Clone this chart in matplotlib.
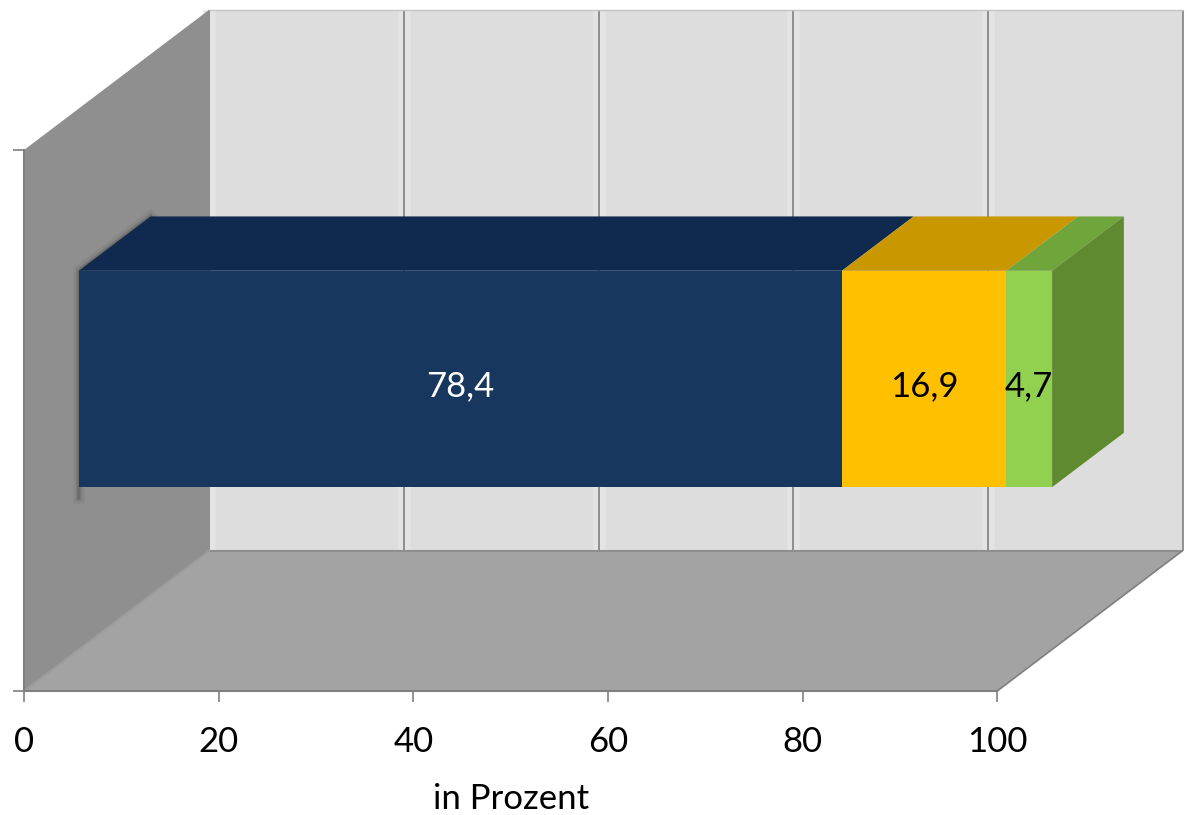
#Gestapelter Balken in 3D-Optik: Anteile in Prozent

import matplotlib
matplotlib.use('Agg')
import matplotlib.pyplot as plt
from matplotlib.patches import Polygon

plt.rcParams['font.family'] = ['Lato', 'DejaVu Sans']

#Daten
anteile = [78.4, 16.9, 4.7]
beschriftung = ['78,4', '16,9', '4,7']
x_ticks = [0, 20, 40, 60, 80, 100]
x_ticklabels = ['0', '20', '40', '60', '80', '100']

#Farben der Segmente
farbe_front = ['#17375E', '#FFC000', '#92D050']
farbe_oben = ['#0F2A4E', '#C99700', '#6FA53B']
farbe_text = ['white', 'black', 'black']
farbe_seite = '#5F8A2F'

#Perspektive: Versatz der Rueckwand in Achseneinheiten
tiefe_x = 19.05
tiefe_y = 0.2595
balken_vorn = 0.296
balken_hinten = 0.683
balken_unten = 0.30
balken_oben = 0.70


def proj(x, y, d):
    '''Punkt (x, y) in der Tiefe d (0 vorn, 1 hinten) auf die Ebene abbilden'''
    return (x + d * tiefe_x, y + d * tiefe_y)


def flaeche(ax, punkte, farbe, z=1, **kw):
    kw.setdefault('linewidth', 0)
    ax.add_patch(Polygon([proj(*p) for p in punkte], closed=True,
                         facecolor=farbe, zorder=z, **kw))


fig = plt.figure(figsize=(11.87, 8.15), dpi=100)
ax = fig.add_axes([0, 0, 1, 1])
ax.set_xlim(-2.467, 119.5)
ax.set_ylim(-0.2292, 1.2773)
ax.patch.set_visible(False)

#Rueckwand, Boden und linke Wand
flaeche(ax, [(0, 0, 1), (100, 0, 1), (100, 1, 1), (0, 1, 1)], '#DDDDDD', 1)
for t in x_ticks:
    #helle Kante neben den Gitterlinien
    if t < 100:
        ax.plot(*zip(proj(t, 0, 1), proj(t, 1, 1)), color='#E4E4E4', lw=9,
                solid_capstyle='butt', zorder=1.1)
    ax.plot(*zip(proj(t, 0, 1), proj(t, 1, 1)), color='#808080', lw=1.2,
            solid_capstyle='butt', zorder=1.2)
ax.plot(*zip(proj(0, 1, 1), proj(100, 1, 1)), color='#C4C4C4', lw=1, zorder=1.2)
flaeche(ax, [(0, 0, 0), (100, 0, 0), (100, 0, 1), (0, 0, 1)], '#A3A3A3', 2)
ax.plot(*zip(proj(0, 0, 1), proj(100, 0, 1)), color='#8E8E8E', lw=1.5,
        solid_capstyle='butt', zorder=2.1)
ax.plot(*zip(proj(100, 0, 0), proj(100, 0, 1)), color='#7F7F7F', lw=1.2,
        solid_capstyle='butt', zorder=2.1)
flaeche(ax, [(0, 0, 0), (0, 0, 1), (0, 1, 1), (0, 1, 0)], '#8F8F8F', 2)
ax.plot(*zip(proj(0, 0, 0), proj(0, 0, 1)), color='#9C9C9C', lw=1.5, zorder=2.1)

#Schatten an der linken Balkenkante
for breite, alpha in [(8, 0.08), (4, 0.14), (2, 0.20)]:
    ax.plot(*zip(proj(0, balken_oben, balken_hinten), proj(0, balken_oben, balken_vorn),
                 proj(0, balken_unten - 0.02, balken_vorn)),
            color='#333333', lw=breite, alpha=alpha, zorder=2.5)

#Balkensegmente: Oberseite und Front
links = 0
for i, wert in enumerate(anteile):
    rechts = links + wert
    flaeche(ax, [(links, balken_oben, balken_vorn), (rechts, balken_oben, balken_vorn),
                 (rechts, balken_oben, balken_hinten), (links, balken_oben, balken_hinten)],
            farbe_oben[i], 3)
    flaeche(ax, [(links, balken_unten, balken_vorn), (rechts, balken_unten, balken_vorn),
                 (rechts, balken_oben, balken_vorn), (links, balken_oben, balken_vorn)],
            farbe_front[i], 3)
    mx, my = proj((links + rechts) / 2, (balken_unten + balken_oben) / 2, balken_vorn)
    ax.text(mx, my - 0.013, beschriftung[i], color=farbe_text[i], fontsize=25,
            ha='center', va='center', zorder=5)
    links = rechts

#rechte Seite des Balkens
flaeche(ax, [(links, balken_unten, balken_vorn), (links, balken_unten, balken_hinten),
             (links, balken_oben, balken_hinten), (links, balken_oben, balken_vorn)],
        farbe_seite, 3)

#Achsen
for seite in ['top', 'right']:
    ax.spines[seite].set_visible(False)
ax.spines['bottom'].set_position(('data', 0))
ax.spines['bottom'].set_bounds(0, 100)
ax.spines['left'].set_position(('data', 0))
ax.spines['left'].set_bounds(0, 1)
for seite in ['bottom', 'left']:
    ax.spines[seite].set_color('#7F7F7F')
    ax.spines[seite].set_linewidth(1.5)
    ax.spines[seite].set_zorder(4)
ax.set_xticks(x_ticks)
ax.set_xticklabels(x_ticklabels, fontsize=25)
ax.set_yticks([0, 1])
ax.set_yticklabels([])
ax.tick_params(axis='both', direction='out', length=8, width=1.2, color='#7F7F7F', pad=17)
ax.set_xlabel('in Prozent', fontsize=25)
ax.xaxis.set_label_coords(50, -0.170, transform=ax.transData)

plt.savefig('out.png', dpi=100)
